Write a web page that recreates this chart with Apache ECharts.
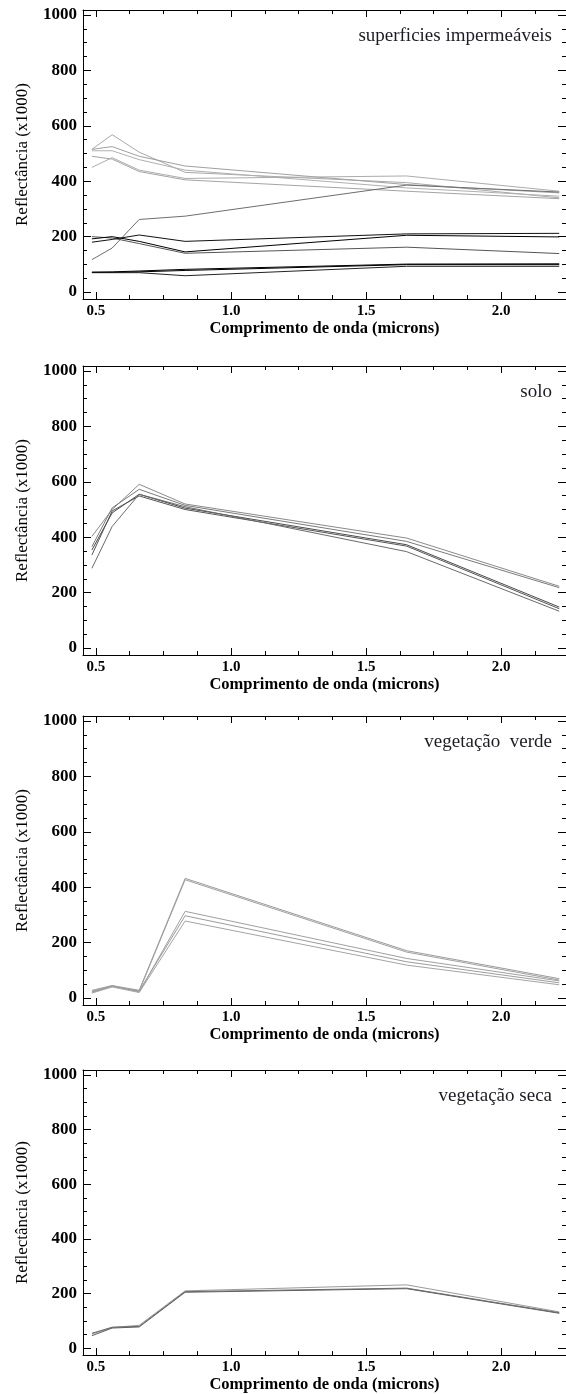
<!DOCTYPE html>
<html>
<head>
<meta charset="utf-8">
<script src="https://cdn.jsdelivr.net/npm/echarts@6/dist/echarts.min.js"></script>
<style>
html,body{margin:0;padding:0;background:#fff;}
#c{width:566px;height:1394px;}
</style>
</head>
<body>
<div id="c"></div>
<script>
// ---- data ----
const wavelengths = [0.485, 0.56, 0.66, 0.83, 1.65, 2.215];
const xTickLabels = [0.5, 1.0, 1.5, 2.0];
const xMinorTicks = [0.625, 0.75, 0.875, 1.125, 1.25, 1.375, 1.625, 1.75, 1.875, 2.125];
const yTickLabels = [0, 200, 400, 600, 800, 1000];
const yMinorTicks = [50, 100, 150, 250, 300, 350, 450, 500, 550, 650, 700, 750, 850, 900, 950];
const panelNames = ['superficies impermeáveis', 'solo', 'vegetação  verde', 'vegetação seca'];

// superficies impermeaveis
const impLight1 = [515, 568, 505, 432, 395, 340];
const impLight2 = [515, 525, 490, 455, 388, 358];
const impLight3 = [510, 510, 478, 440, 376, 346];
const impLight4 = [490, 480, 435, 405, 364, 337];
const impLight5 = [450, 485, 440, 410, 419, 364];
const impGrayRise = [117, 159, 262, 274, 386, 361];
const impDark1 = [180, 190, 206, 183, 210, 212];
const impDark2 = [192, 200, 183, 145, 205, 199];
const impGray3 = [200, 195, 175, 140, 162, 139];
const impLow1 = [71, 71, 73, 78, 99, 99];
const impLow2 = [70, 70, 70, 59, 93, 93];
const impLow3 = [72, 73, 76, 82, 101, 102];

// solo
const solo1 = [403, 500, 591, 520, 397, 223];
const solo2 = [366, 506, 573, 515, 385, 218];
const solo3 = [354, 488, 555, 505, 373, 148];
const solo4 = [336, 495, 549, 500, 368, 142];
const solo5 = [288, 439, 555, 510, 348, 133];

// vegetacao verde
const verde1 = [25, 45, 28, 432, 171, 70];
const verde2 = [20, 43, 25, 427, 166, 65];
const verde3 = [28, 45, 22, 313, 143, 62];
const verde4 = [22, 42, 25, 297, 131, 55];
const verde5 = [18, 40, 20, 278, 119, 48];

// vegetacao seca
const seca1 = [52, 76, 84, 210, 232, 133];
const seca2 = [46, 74, 78, 205, 218, 128];
const seca3 = [55, 77, 80, 207, 220, 130];

// ---- styling / layout ----
const panels = [
  { name: panelNames[0], lines: [
    [impLight1, '#a9a9a9'], [impLight2, '#a0a0a0'], [impLight3, '#b0b0b0'], [impLight4, '#a4a4a4'], [impLight5, '#acacac'],
    [impGrayRise, '#6e6e6e'], [impGray3, '#555555'], [impDark1, '#111111'], [impDark2, '#000000'],
    [impLow1, '#000000'], [impLow2, '#222222'], [impLow3, '#000000']
  ]},
  { name: panelNames[1], lines: [
    [solo1, '#8a8a8a'], [solo2, '#7a7a7a'], [solo3, '#4a4a4a'], [solo4, '#555555'], [solo5, '#6a6a6a']
  ]},
  { name: panelNames[2], lines: [
    [verde1, '#9a9a9a'], [verde2, '#a0a0a0'], [verde3, '#a0a0a0'], [verde4, '#9c9c9c'], [verde5, '#a4a4a4']
  ]},
  { name: panelNames[3], lines: [
    [seca1, '#9a9a9a'], [seca2, '#5a5a5a'], [seca3, '#6a6a6a']
  ]}
];
const tops = [10, 366, 716, 1070];
const H = 289;
const FONT = '"Liberation Serif", "DejaVu Serif", serif';

const grid = [], xAxis = [], yAxis = [], series = [], graphic = [];
panels.forEach((p, i) => {
  grid.push({ left: 83, right: 0, top: tops[i], height: H });
  const baseX = { type: 'value', gridIndex: i, min: 0.452, max: 2.24, splitLine: { show: false } };
  const baseY = { type: 'value', gridIndex: i, min: -25, max: 1018, splitLine: { show: false } };
  xAxis.push(Object.assign({}, baseX, {
    position: 'bottom',
    name: 'Comprimento de onda (microns)', nameLocation: 'middle', nameGap: 19,
    nameTextStyle: { fontFamily: FONT, fontWeight: 'bold', fontSize: 16.5, color: '#000' },
    axisLine: { show: true, onZero: false, lineStyle: { color: '#000', width: 1 } },
    axisTick: { show: true, inside: true, length: 7, customValues: xTickLabels, lineStyle: { color: '#000' } },
    axisLabel: { show: true, customValues: xTickLabels, margin: 5, formatter: v => v.toFixed(1),
      fontFamily: FONT, fontWeight: 'bold', fontSize: 15, color: '#000' }
  }));
  xAxis.push(Object.assign({}, baseX, {
    position: 'bottom',
    axisLine: { show: false, onZero: false },
    axisTick: { show: true, inside: true, length: 4, customValues: xMinorTicks, lineStyle: { color: '#000' } },
    axisLabel: { show: false }
  }));
  xAxis.push(Object.assign({}, baseX, {
    position: 'top',
    axisLine: { show: true, onZero: false, lineStyle: { color: '#000', width: 1 } },
    axisTick: { show: true, inside: true, length: 7, customValues: xTickLabels, lineStyle: { color: '#000' } },
    axisLabel: { show: false }
  }));
  xAxis.push(Object.assign({}, baseX, {
    position: 'top',
    axisLine: { show: false, onZero: false },
    axisTick: { show: true, inside: true, length: 4, customValues: xMinorTicks, lineStyle: { color: '#000' } },
    axisLabel: { show: false }
  }));
  yAxis.push(Object.assign({}, baseY, {
    position: 'left',
    name: 'Reflectância (x1000)', nameLocation: 'middle', nameGap: 52, nameRotate: 90,
    nameTextStyle: { fontFamily: FONT, fontWeight: 'normal', fontSize: 17, color: '#000' },
    axisLine: { show: true, onZero: false, lineStyle: { color: '#000', width: 1 } },
    axisTick: { show: true, inside: true, length: 8, customValues: yTickLabels, lineStyle: { color: '#000' } },
    axisLabel: { show: true, customValues: yTickLabels, margin: 6, formatter: v => String(v),
      fontFamily: FONT, fontWeight: 'bold', fontSize: 17, color: '#000' }
  }));
  yAxis.push(Object.assign({}, baseY, {
    position: 'left',
    axisLine: { show: false, onZero: false },
    axisTick: { show: true, inside: true, length: 4, customValues: yMinorTicks, lineStyle: { color: '#000' } },
    axisLabel: { show: false }
  }));
  yAxis.push(Object.assign({}, baseY, {
    position: 'right',
    axisLine: { show: true, onZero: false, lineStyle: { color: '#000', width: 1 } },
    axisTick: { show: true, inside: true, length: 8, customValues: yTickLabels, lineStyle: { color: '#000' } },
    axisLabel: { show: false }
  }));
  yAxis.push(Object.assign({}, baseY, {
    position: 'right',
    axisLine: { show: false, onZero: false },
    axisTick: { show: true, inside: true, length: 4, customValues: yMinorTicks, lineStyle: { color: '#000' } },
    axisLabel: { show: false }
  }));
  p.lines.forEach(([vals, color]) => {
    series.push({
      type: 'line', xAxisIndex: i * 4, yAxisIndex: i * 4,
      data: wavelengths.map((w, k) => [w, vals[k]]),
      showSymbol: false, symbol: 'none', silent: true, animation: false,
      lineStyle: { color: color, width: 1 }
    });
  });
  graphic.push({
    type: 'text', right: 14, top: tops[i] + 17,
    style: { text: p.name, fontFamily: FONT, fontSize: 19, fill: '#1c1c28' }
  });
});

const chart = echarts.init(document.getElementById('c'), null, { renderer: 'canvas' });
chart.setOption({ animation: false, backgroundColor: '#fff', grid, xAxis, yAxis, series, graphic });
</script>
</body>
</html>
